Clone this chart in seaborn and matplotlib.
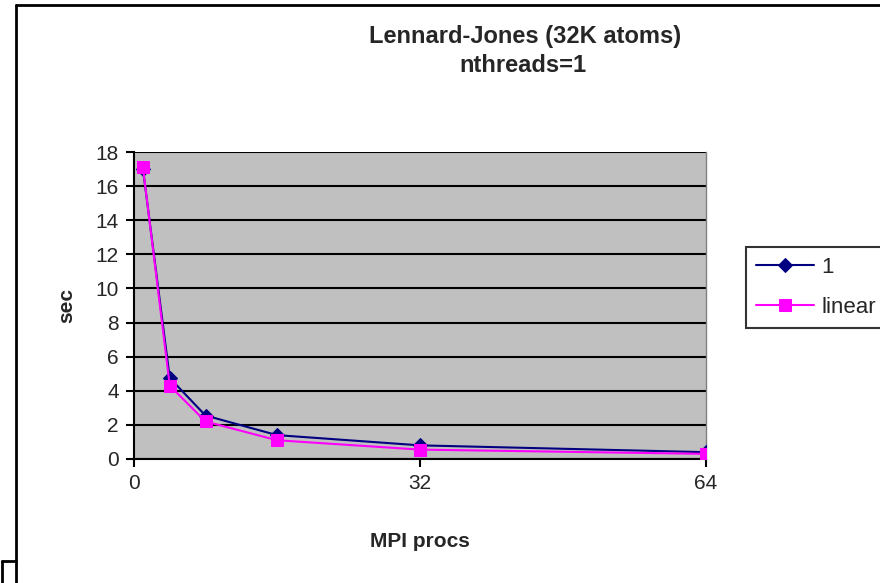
import matplotlib
matplotlib.use("Agg")
import matplotlib.pyplot as plt
import seaborn as sns
import pandas as pd
from matplotlib.lines import Line2D

procs = [1, 4, 8, 16, 32, 64]
series_one = [17.0, 4.75, 2.55, 1.4, 0.8, 0.4]
series_linear = [17.1, 4.3, 2.2, 1.1, 0.55, 0.3]
x_ticks = [0, 32, 64]
y_ticks = [0, 2, 4, 6, 8, 10, 12, 14, 16, 18]

sns.set_style("white")
plt.rcParams['font.family'] = ['Liberation Sans', 'DejaVu Sans']

fig = plt.figure(figsize=(8.8, 5.83), dpi=100)
ax = fig.add_axes([134/880, 1-459/583, (706-134)/880, (459-152)/583])
ax.set_facecolor('#C0C0C0')

df1 = pd.DataFrame({'x': procs, 'y': series_one})
df2 = pd.DataFrame({'x': procs, 'y': series_linear})
sns.lineplot(data=df1, x='x', y='y', ax=ax, color='#000080', marker='D',
             markersize=7, markeredgecolor='#000080', linewidth=1.5, label='1', zorder=3)
sns.lineplot(data=df2, x='x', y='y', ax=ax, color='#FF00FF', marker='s',
             markersize=9, markeredgecolor='#FF00FF', linewidth=1.5, label='linear', zorder=4)

ax.set_xlim(0, 64)
ax.set_ylim(0, 18)
ax.set_xticks(x_ticks)
ax.set_yticks(y_ticks)
ax.yaxis.grid(True, color='black', linewidth=1.5)
ax.xaxis.grid(False)
ax.set_axisbelow(True)
for s in ['left', 'bottom']:
    ax.spines[s].set_color('black')
    ax.spines[s].set_linewidth(1.5)
ax.spines['top'].set_visible(False)
ax.spines['right'].set_color('#808080')
ax.spines['right'].set_linewidth(1.0)
ax.tick_params(axis='both', direction='out', length=6, width=1.5, color='black',
               labelsize=15, left=True, bottom=True, pad=5)
ax.set_xlabel('MPI procs', fontsize=15, fontweight='bold', labelpad=28)
ax.set_ylabel('sec', fontsize=15, fontweight='bold', labelpad=14)

fig.text(525/880, 1-36/583, 'Lennard-Jones (32K atoms)', ha='center', va='center',
         fontsize=17, fontweight='bold')
fig.text(523/880, 1-66/583, 'nthreads=1', ha='center', va='center',
         fontsize=17, fontweight='bold')

leg = ax.legend(loc='upper left', bbox_to_anchor=(746/880, 1-247/583),
                bbox_transform=fig.transFigure, frameon=True, fancybox=False,
                fontsize=16, handlelength=2.6, borderpad=0.45, labelspacing=0.86,
                handletextpad=0.35, borderaxespad=0)
leg.get_frame().set_edgecolor('black')
leg.get_frame().set_linewidth(1.5)
leg.get_frame().set_facecolor('white')

def pline(xs, ys):
    fig.add_artist(Line2D([x/880 for x in xs], [1-y/583 for y in ys],
                          transform=fig.transFigure, color='black', linewidth=2.0))

pline([16, 880], [5, 5])
pline([16, 16], [5, 583])
pline([2, 16], [561, 561])
pline([2, 2], [561, 583])

fig.savefig('out.png', dpi=100)
